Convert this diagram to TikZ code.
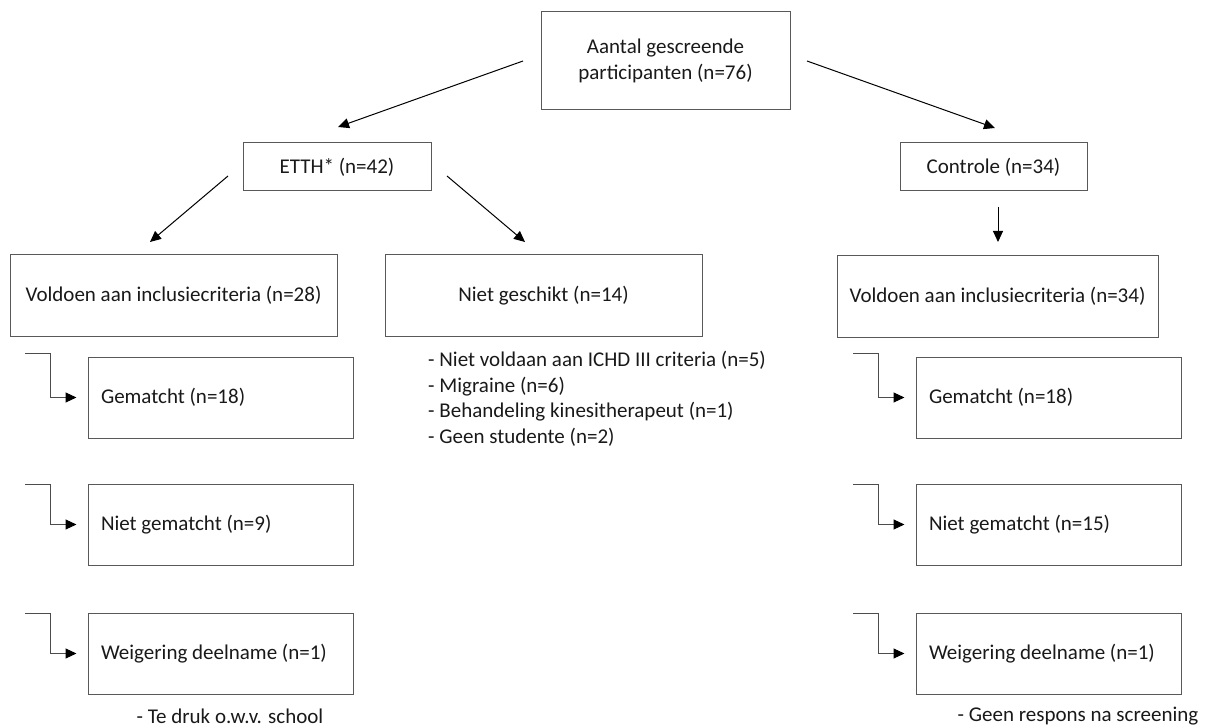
\documentclass[tikz,border=0pt]{standalone}
\usepackage{fontspec}
\setmainfont{Carlito}
\usetikzlibrary{arrows.meta,calc}
\tikzset{
  box/.style={draw=black!65, line width=1pt, rectangle, inner sep=0pt, font=\fontsize{21}{26}\selectfont, text=black!90, align=center},
  subbox/.style={box, minimum width=265pt, minimum height=81pt, text width=239pt, inner xsep=13pt, align=flush left},
  arr/.style={draw=black, line width=1pt, -{Triangle[length=11pt,width=10pt]}},
  elb/.style={draw=black!70, line width=1pt, -{Triangle[length=11pt,width=10pt,color=black]}, shorten >=11pt},
  note/.style={font=\fontsize{21}{25.7}\selectfont, text=black!90, inner sep=0pt, align=left}
}
\begin{document}
\begin{tikzpicture}[x=1pt,y=-1pt]
\useasboundingbox (0,0) rectangle (1207,727);
% main boxes
\node[box, minimum width=249pt, minimum height=98pt] (top) at (665.5,61) {Aantal gescreende\\participanten (n=76)};
\node[box, minimum width=188pt, minimum height=48pt] (etth) at (337,167) {ETTH* (n=42)};
\node[box, minimum width=187pt, minimum height=48pt] (ctrl) at (993.5,167) {Controle (n=34)};
\node[box, minimum width=327pt, minimum height=81pt] (vl) at (173.5,295.5) {Voldoen aan inclusiecriteria (n=28)};
\node[box, minimum width=317pt, minimum height=81pt] (ng) at (543.5,295.5) {Niet geschikt (n=14)};
\node[box, minimum width=321pt, minimum height=81pt] (vr) at (997.5,296.5) {Voldoen aan inclusiecriteria (n=34)};
% sub boxes
\node[subbox] (gl) at (220.5,397.5) {Gematcht (n=18)};
\node[subbox] (nl) at (220.5,524.5) {Niet gematcht (n=9)};
\node[subbox] (wl) at (220.5,653.5) {Weigering deelname (n=1)};
\node[subbox] (gr) at (1048.5,397.5) {Gematcht (n=18)};
\node[subbox] (nr) at (1048.5,524.5) {Niet gematcht (n=15)};
\node[subbox] (wr) at (1048.5,653.5) {Weigering deelname (n=1)};
% notes
\node[note, anchor=north west] (list) at (428,351) {- Niet voldaan aan ICHD III criteria (n=5)\\- Migraine (n=6)\\- Behandeling kinesitherapeut (n=1)\\- Geen studente (n=2)};
\node[note] (nwl) at (230,716) {- Te druk o.w.v. school};
\node[note] (nwr) at (1078,716) {- Geen respons na screening};
% arrow coordinates
\coordinate (a1s) at (523,61);
\coordinate (a1e) at (338,127);
\coordinate (a2s) at (807,61);
\coordinate (a2e) at (995,128);
\coordinate (a3s) at (228,176);
\coordinate (a3e) at (150,242);
\coordinate (a4s) at (447,176);
\coordinate (a4e) at (525,242);
\coordinate (a5s) at (998,207);
\coordinate (a5e) at (998,242);
\draw[arr] (a1s) -- (a1e);
\draw[arr] (a2s) -- (a2e);
\draw[arr] (a3s) -- (a3e);
\draw[arr] (a4s) -- (a4e);
\draw[arr] (a5s) -- (a5e);
% elbows
\coordinate (e1) at (25,353);
\coordinate (e2) at (25,484);
\coordinate (e3) at (25,613);
\coordinate (e4) at (853,353);
\coordinate (e5) at (853,484);
\coordinate (e6) at (853,613);
\draw[elb] (e1) -- ++(25,0) |- (gl.west);
\draw[elb] (e2) -- ++(25,0) |- (nl.west);
\draw[elb] (e3) -- ++(25,0) |- (wl.west);
\draw[elb] (e4) -- ++(25,0) |- (gr.west);
\draw[elb] (e5) -- ++(25,0) |- (nr.west);
\draw[elb] (e6) -- ++(25,0) |- (wr.west);
\end{tikzpicture}
\end{document}
